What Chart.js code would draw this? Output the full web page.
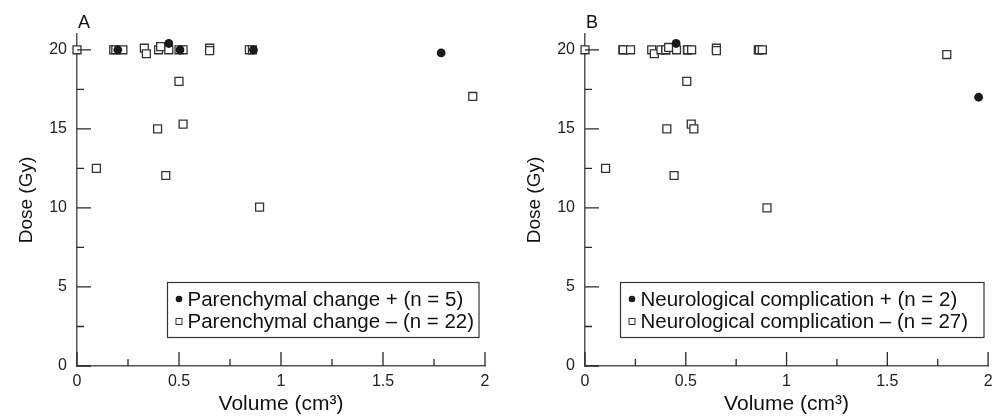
<!DOCTYPE html>
<html>
<head>
<meta charset="utf-8">
<script src="https://cdn.jsdelivr.net/npm/chart.js@4.4.0/dist/chart.umd.min.js"></script>
<style>
  body { margin: 0; background: #fff; width: 995px; height: 418px; overflow: hidden; position: relative; }
  .panel { position: absolute; top: 0; height: 418px; }
</style>
</head>
<body>
<div class="panel" style="left:0;width:495px"><canvas id="chartA" width="495" height="418"></canvas></div>
<div class="panel" style="left:495px;width:500px"><canvas id="chartB" width="500" height="418"></canvas></div>
<script>
// Panel A - parenchymal change
const volA_pos  = [0.2, 0.45, 0.505, 0.865, 1.785];
const doseA_pos = [20, 20.4, 20, 20, 19.8];
const volA_neg  = [0.0, 0.18, 0.19, 0.225, 0.33, 0.34, 0.4, 0.41, 0.45, 0.5, 0.52,
                   0.65, 0.65, 0.845, 0.86, 0.5, 0.52, 0.395, 0.095, 0.435, 0.895, 1.94];
const doseA_neg = [20, 20, 20, 20, 20.1, 19.75, 20, 20.2, 20, 20, 20,
                   20.1, 19.95, 20, 20, 18, 15.3, 15, 12.5, 12.05, 10.05, 17.05];

// Panel B - neurological complication
const volB_pos  = [0.452, 1.953];
const doseB_pos = [20.4, 17.0];
const volB_neg  = [0.0, 0.188, 0.19, 0.226, 0.331, 0.344, 0.377, 0.4, 0.401, 0.415, 0.454,
                   0.508, 0.51, 0.529, 0.652, 0.652, 0.86, 0.865, 0.88, 1.795,
                   0.505, 0.527, 0.54, 0.406, 0.102, 0.442, 0.903];
const doseB_neg = [20, 20, 20, 20, 20, 19.75, 20, 20, 20, 20.15, 20,
                   20, 20, 20, 20.1, 19.95, 20, 20, 20, 19.7,
                   18, 15.3, 15, 15, 12.5, 12.05, 10];

const labelsA = ['Parenchymal change + (n = 5)', 'Parenchymal change \u2013 (n = 22)'];
const labelsB = ['Neurological complication + (n = 2)', 'Neurological complication \u2013 (n = 27)'];

const FONT = '"Liberation Sans", Arial, Helvetica, sans-serif';

function toPoints(xs, ys) {
  return xs.map((v, i) => ({x: v, y: ys[i]}));
}

// inward ticks, boxed legend and panel letter
const panelDeco = {
  id: 'panelDeco',
  afterDraw(chart, args, opts) {
    const {ctx, chartArea: a, scales: {x, y}} = chart;
    ctx.save();
    ctx.strokeStyle = '#2a2a2a';
    ctx.lineWidth = 1.3;
    ctx.beginPath();
    for (let v = 0; v <= 2.001; v += 0.25) {
      const px = x.getPixelForValue(v);
      const len = Math.abs(v * 2 - Math.round(v * 2)) < 1e-6 ? 14 : 7;
      ctx.moveTo(px, a.bottom);
      ctx.lineTo(px, a.bottom - len);
    }
    for (let v = 0; v <= 20.001; v += 2.5) {
      const py = y.getPixelForValue(v);
      const len = v % 5 === 0 ? 14 : 7;
      ctx.moveTo(a.left, py);
      ctx.lineTo(a.left + len, py);
    }
    ctx.stroke();

    // panel letter
    ctx.fillStyle = '#111';
    ctx.font = '18px ' + FONT;
    ctx.textBaseline = 'alphabetic';
    ctx.textAlign = 'left';
    ctx.fillText(opts.letter, a.left + 1, 28);

    // legend box
    const b = opts.box;
    ctx.fillStyle = '#fff';
    ctx.fillRect(b.x, b.y, b.w, b.h);
    ctx.strokeStyle = '#333';
    ctx.lineWidth = 1.2;
    ctx.strokeRect(b.x, b.y, b.w, b.h);
    ctx.font = '20.5px ' + FONT;
    ctx.textBaseline = 'middle';
    chart.data.datasets.forEach((ds, i) => {
      const cy = b.y + 16.5 + i * 22.5;
      const mx = b.x + 11.5;
      if (ds.pointStyle === 'circle') {
        ctx.fillStyle = '#1a1a1a';
        ctx.beginPath();
        ctx.arc(mx, cy, 3.3, 0, Math.PI * 2);
        ctx.fill();
      } else {
        ctx.strokeStyle = '#333';
        ctx.lineWidth = 1;
        ctx.strokeRect(mx - 3, cy - 3, 6, 6);
      }
      ctx.fillStyle = '#111';
      ctx.fillText(ds.label, b.x + 20, cy + 1);
    });
    ctx.restore();
  }
};

function makeChart(id, posPts, negPts, labels, deco, yTitlePad, axisW, padRight) {
  return new Chart(document.getElementById(id), {
    type: 'scatter',
    data: {
      datasets: [{
        label: labels[0],
        data: posPts,
        pointStyle: 'circle',
        radius: 4.4,
        backgroundColor: '#1a1a1a',
        borderWidth: 0,
        clip: false
      }, {
        label: labels[1],
        data: negPts,
        pointStyle: 'rect',
        radius: 5.6,
        backgroundColor: '#fff',
        borderColor: '#333',
        borderWidth: 1.3,
        clip: false
      }]
    },
    options: {
      responsive: false,
      animation: false,
      events: [],
      layout: {padding: {top: 34, right: padRight, left: 0, bottom: 0}},
      plugins: {
        legend: {display: false},
        tooltip: {enabled: false},
        panelDeco: deco
      },
      scales: {
        x: {
          type: 'linear', min: 0, max: 2,
          grid: {display: false, drawTicks: false},
          border: {display: true, color: '#555', width: 1.5},
          ticks: {stepSize: 0.5, includeBounds: false, padding: 6, color: '#222',
                  font: {family: FONT, size: 16}, maxRotation: 0,
                  callback: v => String(v)},
          title: {display: true, text: 'Volume (cm\u00b3)', color: '#111',
                  font: {family: FONT, size: 21}, padding: {top: 0, bottom: 1}},
          afterFit: s => { s.height = 52; s.paddingLeft = 0; s.paddingRight = 0; }
        },
        y: {
          type: 'linear', min: 0, max: 21,
          grid: {display: false, drawTicks: false},
          border: {display: true, color: '#555', width: 1.5},
          ticks: {stepSize: 5, includeBounds: false, padding: 10, color: '#222',
                  font: {family: FONT, size: 16}},
          title: {display: true, text: 'Dose (Gy)', color: '#111',
                  font: {family: FONT, size: 19}, padding: {top: yTitlePad, bottom: 0}},
          afterFit: s => { s.width = axisW; s.paddingTop = 0; s.paddingBottom = 0; }
        }
      }
    },
    plugins: [panelDeco]
  });
}

makeChart('chartA', toPoints(volA_pos, doseA_pos), toPoints(volA_neg, doseA_neg), labelsA,
  {letter: 'A', box: {x: 167.5, y: 282.5, w: 311.5, h: 55}}, 15, 77, 10);
makeChart('chartB', toPoints(volB_pos, doseB_pos), toPoints(volB_neg, doseB_neg), labelsB,
  {letter: 'B', box: {x: 125.5, y: 282.5, w: 363.5, h: 55}}, 28, 90, 2.5);
</script>
</body>
</html>
